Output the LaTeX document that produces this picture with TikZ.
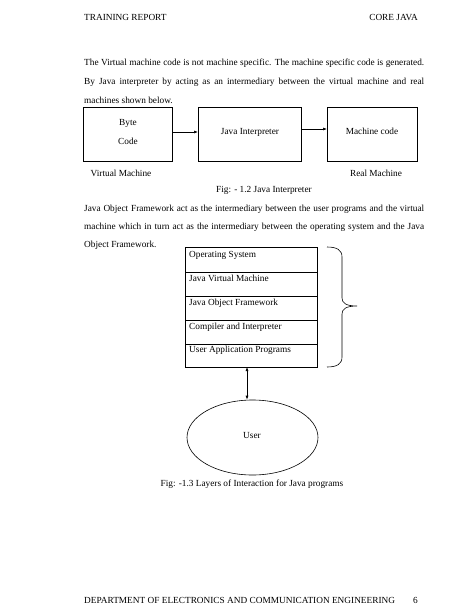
\documentclass[tikz,border=0pt]{standalone}
\usepackage{fontspec}
\setmainfont{Liberation Serif}
\usetikzlibrary{arrows.meta,shapes.geometric}
\tikzset{
  txt/.style={inner sep=0pt, anchor=base west, font=\fontsize{9.3}{11}\selectfont},
  ctxt/.style={inner sep=0pt, anchor=base, font=\fontsize{9.3}{11}\selectfont},
  hf/.style={inner sep=0pt, anchor=base west, font=\fontsize{9.3}{11}\selectfont},
  box/.style={draw, line width=0.6pt},
  arr/.style={line width=0.6pt, -{Latex[length=4pt,width=3pt]}},
  darr/.style={line width=0.6pt, {Latex[length=4pt,width=3pt]}-{Latex[length=4pt,width=3pt]}}
}
\newsavebox\jbox
\newcommand{\jline}[1]{\sbox\jbox{#1}%
  \ifdim\wd\jbox>340pt
    \pgfmathsetmacro\jf{340/(\the\wd\jbox)}\scalebox{\jf}[1]{\usebox\jbox}%
  \else\makebox[340pt][s]{#1}\fi}
\begin{document}
\begin{tikzpicture}[x=1pt,y=-1pt]
\useasboundingbox (0,0) rectangle (474,613);
\fill[white] (0,0) rectangle (474,613);
% header
\node[hf] (hl) at (84,20) {TRAINING REPORT};
\node[hf, anchor=base east] (hr) at (418,20) {CORE JAVA};
% paragraph 1
\node[txt] (p1a) at (84,65) {\jline{The Virtual machine code is not machine specific. The machine specific code is generated.}};
\node[txt] (p1b) at (84,84) {\jline{By Java interpreter by acting as an intermediary between the virtual machine and real}};
\node[txt] (p1c) at (84,103) {machines shown below.};
% figure 1.2
\node[box, minimum width=89pt, minimum height=54pt, anchor=north west] (b1) at (83,107) {};
\node[box, minimum width=103pt, minimum height=54pt, anchor=north west] (b2) at (198,107) {};
\node[box, minimum width=90pt, minimum height=54pt, anchor=north west] (b3) at (327,107) {};
\node[ctxt] (t1a) at (128,125) {Byte};
\node[ctxt] (t1b) at (128,144) {Code};
\node[ctxt] (t2) at (250,134) {Java Interpreter};
\node[ctxt] (t3) at (372,134) {Machine code};
\draw[arr] (b1.east |- 0,132) -- (b2.west |- 0,132);
\draw[arr] (b2.east |- 0,129) -- (b3.west |- 0,129);
\node[ctxt] (vm) at (121,176) {Virtual Machine};
\node[ctxt] (rm) at (376,176) {Real Machine};
\node[ctxt] (f12) at (264,192) {Fig: - 1.2 Java Interpreter};
% paragraph 2
\node[txt] (p2a) at (84,211) {\jline{Java Object Framework act as the intermediary between the user programs and the virtual}};
\node[txt] (p2b) at (84,229) {\jline{machine which in turn act as the intermediary between the operating system and the Java}};
\node[txt] (p2c) at (84,247) {Object Framework.};
% stack
\draw[box] (185,247) rectangle (317,367);
\foreach \yy in {272,296,320,344} \draw[line width=0.6pt] (185,\yy) -- (317,\yy);
\node[txt] (s1) at (189,257) {Operating System};
\node[txt] (s2) at (189,281) {Java Virtual Machine};
\node[txt] (s3) at (189,305) {Java Object Framework};
\node[txt] (s4) at (189,329) {Compiler and Interpreter};
\node[txt] (s5) at (189,352) {User Application Programs};
\coordinate (stackbot) at (247,367);
% brace
\draw[line width=0.6pt] (327,247) .. controls (337,247) and (342,250) .. (342,257) -- (342,298)
  .. controls (342,303) and (346,306) .. (357,306)
  .. controls (346,306) and (342,309) .. (342,314) -- (342,357)
  .. controls (342,364) and (337,367) .. (327,367);
% user
\node[draw, line width=0.6pt, ellipse, minimum width=131pt, minimum height=75pt, inner sep=0pt] (user) at (252.5,437.5) {};
\node[ctxt] (ut) at (252,438) {User};
\draw[darr] (stackbot) -- (stackbot |- user.north);
\node[ctxt] (f13) at (252,486) {Fig: -1.3 Layers of Interaction for Java programs};
% footer
\node[hf] (ft) at (84,603) {DEPARTMENT OF ELECTRONICS AND COMMUNICATION ENGINEERING};
\node[hf] (pg) at (413,603) {6};
\end{tikzpicture}
\end{document}
